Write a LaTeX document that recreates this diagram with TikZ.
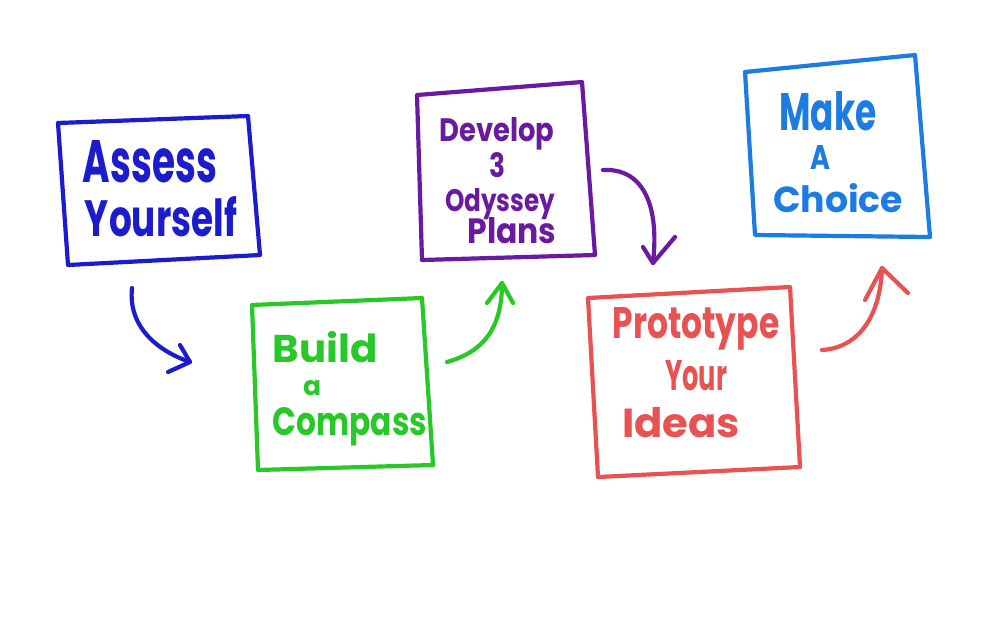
\documentclass[tikz,border=0pt]{standalone}
\usepackage{fontspec}
\usepackage{graphicx}
\setmainfont{Poppins}
\definecolor{cA}{RGB}{28,28,205}
\definecolor{cB}{RGB}{40,200,40}
\definecolor{cC}{RGB}{106,26,160}
\definecolor{cD}{RGB}{232,82,82}
\definecolor{cE}{RGB}{28,124,225}
\newcommand{\handword}[3]{\resizebox{#1pt}{#2pt}{#3}}
\tikzset{
  sketch/.style={line width=4.2pt, line join=round, line cap=round},
  hand/.style={font=\fontsize{40}{44}\selectfont\bfseries, anchor=base, inner sep=0pt},
}
\begin{document}
\begin{tikzpicture}[x=1pt,y=-1pt]
\fill[white] (0,0) rectangle (1000,625);
\useasboundingbox (0,0) rectangle (1000,625);

% Box 1: Assess Yourself
\coordinate (b1tl) at (58,123); \coordinate (b1tr) at (248,116);
\coordinate (b1br) at (260,255); \coordinate (b1bl) at (68,265);
\draw[sketch,cA] (b1tl) -- (b1tr) -- (b1br) -- (b1bl) -- cycle;
\node[hand,text=cA] (t1a) at (150,182) {\handword{134}{42}{Assess}};
\node[hand,text=cA] (t1b) at (161,236) {\handword{152}{40}{Yourself}};

% Box 2: Build a Compass
\coordinate (b2tl) at (252,305); \coordinate (b2tr) at (422,298);
\coordinate (b2br) at (433,465); \coordinate (b2bl) at (258,470);
\draw[sketch,cB] (b2tl) -- (b2tr) -- (b2br) -- (b2bl) -- cycle;
\node[hand,text=cB] (t2a) at (325,362) {\handword{105}{31}{Build}};
\node[hand,text=cB] (t2b) at (312,395) {\handword{18}{15}{a}};
\node[hand,text=cB] (t2c) at (350,435) {\handword{154}{28}{Compass}};

% Box 3: Develop 3 Odyssey Plans
\coordinate (b3tl) at (417,95); \coordinate (b3tr) at (582,82);
\coordinate (b3br) at (595,255); \coordinate (b3bl) at (422,260);
\draw[sketch,cC] (b3tl) -- (b3tr) -- (b3br) -- (b3bl) -- cycle;
\node[hand,text=cC] (t3a) at (497,141) {\handword{115}{24}{Develop}};
\node[hand,text=cC] (t3b) at (497,177) {\handword{16}{25}{3}};
\node[hand,text=cC] (t3c) at (500,211) {\handword{110}{23}{Odyssey}};
\node[hand,text=cC] (t3d) at (512,243) {\handword{89}{26}{Plans}};

% Box 4: Prototype Your Ideas
\coordinate (b4tl) at (588,298); \coordinate (b4tr) at (790,287);
\coordinate (b4br) at (800,467); \coordinate (b4bl) at (598,477);
\draw[sketch,cD] (b4tl) -- (b4tr) -- (b4br) -- (b4bl) -- cycle;
\node[hand,text=cD] (t4a) at (696,338) {\handword{167}{31}{Prototype}};
\node[hand,text=cD] (t4b) at (696,390) {\handword{62}{30}{Your}};
\node[hand,text=cD] (t4c) at (681,437) {\handword{118}{30}{Ideas}};

% Box 5: Make A Choice
\coordinate (b5tl) at (745,72); \coordinate (b5tr) at (915,55);
\coordinate (b5br) at (930,237); \coordinate (b5bl) at (755,235);
\draw[sketch,cE] (b5tl) -- (b5tr) -- (b5br) -- (b5bl) -- cycle;
\node[hand,text=cE] (t5a) at (828,130) {\handword{97}{39}{Make}};
\node[hand,text=cE] (t5b) at (820,169) {\handword{20}{24}{A}};
\node[hand,text=cE] (t5c) at (838,212) {\handword{130}{29}{Choice}};

% Arrow 1 (blue)
\coordinate (a1s) at (132,288); \coordinate (a1e) at (190,362);
\coordinate (a1u) at (180,345); \coordinate (a1l) at (168,372);
\draw[sketch,cA] (a1s) .. controls (128,325) and (155,350) .. (a1e);
\draw[sketch,cA] (a1u) -- (a1e) -- (a1l);

% Arrow 2 (green)
\coordinate (a2s) at (447,362); \coordinate (a2e) at (502,283);
\coordinate (a2l) at (487,303); \coordinate (a2r) at (513,303);
\draw[sketch,cB] (a2s) .. controls (482,352) and (502,330) .. (a2e);
\draw[sketch,cB] (a2l) -- (a2e) -- (a2r);

% Arrow 3 (purple)
\coordinate (a3s) at (603,170); \coordinate (a3e) at (653,263);
\coordinate (a3l) at (643,247); \coordinate (a3r) at (675,237);
\draw[sketch,cC] (a3s) .. controls (640,168) and (660,200) .. (a3e);
\draw[sketch,cC] (a3l) -- (a3e) -- (a3r);

% Arrow 4 (red)
\coordinate (a4s) at (822,350); \coordinate (a4e) at (882,268);
\coordinate (a4l) at (865,300); \coordinate (a4r) at (908,293);
\draw[sketch,cD] (a4s) .. controls (856,348) and (880,320) .. (a4e);
\draw[sketch,cD] (a4l) -- (a4e) -- (a4r);
\end{tikzpicture}
\end{document}
